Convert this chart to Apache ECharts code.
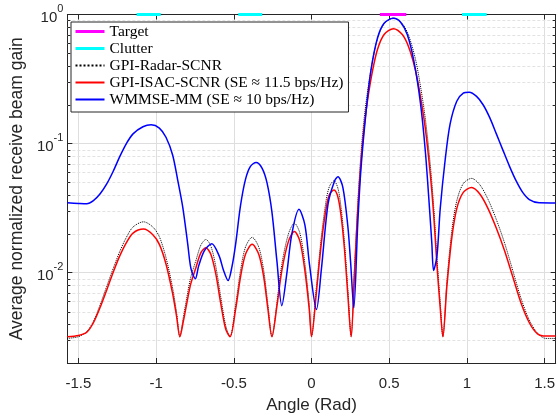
<!DOCTYPE html>
<html>
<head>
<meta charset="utf-8">
<script src="https://cdn.jsdelivr.net/npm/echarts@6/dist/echarts.min.js"></script>
<style>html,body{margin:0;padding:0;background:#fff;}#c{width:558px;height:419px;}</style>
</head>
<body>
<div id="c"></div>
<script>
// ---- data ----
const angRS = [-1.5708,-1.4987,-1.4459,-1.4032,-1.3611,-1.3185,-1.2758,-1.2338,-1.1911,-1.1484,-1.0809,-1.0210,-0.9790,-0.9363,-0.8936,-0.8682,-0.8471,-0.8248,-0.8025,-0.7771,-0.7433,-0.7115,-0.6796,-0.6478,-0.6159,-0.5841,-0.5522,-0.5242,-0.4885,-0.4567,-0.4248,-0.3822,-0.3395,-0.3076,-0.2803,-0.2548,-0.2229,-0.1911,-0.1484,-0.1102,-0.0745,-0.0427,-0.0146,0,0.0318,0.0637,0.0955,0.1166,0.1446,0.1701,0.1911,0.2121,0.2338,0.2548,0.2758,0.2975,0.3185,0.3395,0.3611,0.3930,0.4248,0.4669,0.5268,0.5841,0.6261,0.6688,0.7006,0.7325,0.7643,0.7854,0.8071,0.8280,0.8452,0.8707,0.9025,0.9344,0.9764,1.0299,1.0828,1.1357,1.1892,1.2420,1.2949,1.3484,1.4013,1.4541,1.5076,1.5708];
const isacVals = [0.0032,0.00327,0.00346,0.0041,0.00535,0.0073,0.0101,0.0135,0.0171,0.0203,0.0218,0.0197,0.0166,0.0117,0.0069,0.0046,0.0032,0.0042,0.0058,0.0082,0.011,0.0143,0.0156,0.0139,0.0098,0.0058,0.00366,0.0032,0.0052,0.0093,0.0139,0.0166,0.0139,0.0093,0.0052,0.0032,0.0055,0.0104,0.0175,0.0209,0.0175,0.0104,0.0052,0.0032,0.00715,0.0171,0.0323,0.0407,0.0437,0.0384,0.0271,0.0152,0.0067,0.0032,0.0095,0.0305,0.0728,0.138,0.219,0.369,0.538,0.699,0.776,0.699,0.555,0.369,0.232,0.13,0.0577,0.0288,0.0114,0.00535,0.0032,0.0078,0.0186,0.0314,0.0419,0.0457,0.0407,0.0314,0.0221,0.0148,0.0093,0.0058,0.0041,0.00336,0.00323,0.00323];
const radarVals = [0.0031,0.0032,0.0035,0.0042,0.0056,0.0078,0.0108,0.0146,0.0188,0.0226,0.0248,0.0226,0.0190,0.0131,0.0076,0.0049,0.0032,0.0045,0.0064,0.0092,0.0125,0.0164,0.0181,0.0161,0.0112,0.0065,0.0039,0.0032,0.0056,0.0104,0.0158,0.0188,0.0158,0.0104,0.0056,0.0032,0.0058,0.0116,0.0200,0.0242,0.0202,0.0118,0.0056,0.0032,0.0078,0.0192,0.0372,0.0470,0.0515,0.0450,0.0312,0.0170,0.0073,0.0032,0.0105,0.0345,0.0840,0.160,0.256,0.440,0.650,0.845,0.940,0.850,0.680,0.450,0.280,0.155,0.068,0.033,0.0128,0.0058,0.0032,0.0085,0.0210,0.0360,0.0490,0.0538,0.0480,0.0370,0.0258,0.0170,0.0104,0.0063,0.0043,0.0034,0.0031,0.0031];
const angWM = [-1.5708,-1.4987,-1.4459,-1.4032,-1.3611,-1.3185,-1.2758,-1.2338,-1.1911,-1.1484,-1.0847,-1.0318,-0.9790,-0.9363,-0.8936,-0.8618,-0.8280,-0.7962,-0.7752,-0.7471,-0.7261,-0.6898,-0.6414,-0.5943,-0.5669,-0.5369,-0.5127,-0.4885,-0.4567,-0.4248,-0.3930,-0.3567,-0.3185,-0.2866,-0.2548,-0.2229,-0.1911,-0.1592,-0.1274,-0.0809,-0.0427,-0.0127,0.0318,0.0637,0.1064,0.1484,0.1701,0.2019,0.2338,0.2516,0.2720,0.2975,0.3185,0.3503,0.3822,0.4248,0.4669,0.5268,0.5732,0.6159,0.6580,0.7006,0.7325,0.7599,0.7739,0.7854,0.8071,0.8280,0.8599,0.8917,0.9344,0.9764,1.0146,1.0618,1.1038,1.1465,1.1892,1.2312,1.2739,1.3166,1.3586,1.4013,1.4650,1.5708];
const wmmseVals = [0.0348,0.0344,0.0342,0.0362,0.0407,0.0485,0.0611,0.0793,0.100,0.119,0.135,0.140,0.132,0.112,0.0817,0.0529,0.032,0.0166,0.0107,0.0090,0.0113,0.0148,0.0168,0.0135,0.0105,0.0087,0.0110,0.0166,0.0332,0.0529,0.0667,0.0715,0.0647,0.0499,0.0296,0.0124,0.00556,0.0098,0.0197,0.031,0.0235,0.0115,0.0052,0.0107,0.0342,0.0514,0.0553,0.0457,0.0228,0.0120,0.00535,0.0242,0.0647,0.174,0.369,0.66,0.857,0.934,0.871,0.699,0.439,0.207,0.0866,0.0305,0.0170,0.0104,0.0135,0.0314,0.075,0.142,0.213,0.246,0.250,0.232,0.200,0.159,0.119,0.0891,0.0667,0.0514,0.0419,0.0369,0.0348,0.0347];
const targetSpan = [0.44, 0.61];
const clutterSpans = [[-1.125, -0.97], [-0.471, -0.317], [0.968, 1.127]];
const minorYTicks = [0.003,0.004,0.005,0.006,0.007,0.008,0.009,0.02,0.03,0.04,0.05,0.06,0.07,0.08,0.09,0.2,0.3,0.4,0.5,0.6,0.7,0.8,0.9];
const legendNames = ['Target','Clutter','GPI-Radar-SCNR','GPI-ISAC-SCNR (SE \u2248 11.5 bps/Hz)','WMMSE-MM (SE \u2248 10 bps/Hz)'];
const xMin = -Math.PI / 2, xMax = Math.PI / 2, yMin = 0.002, yMax = 1;

const zip = (a, b) => a.map((x, i) => [x, b[i]]);
const axisColor = '#262626';
const sans = 'Liberation Sans';

const chart = echarts.init(document.getElementById('c'), null, {renderer: 'canvas'});

const series = [
  {
    type: 'custom', coordinateSystem: 'cartesian2d', silent: true, z: 1,
    data: minorYTicks.map(v => [xMin, v]),
    renderItem: (params, api) => {
      const v = api.value(1);
      const a = api.coord([xMin, v]), b = api.coord([xMax, v]);
      const y = Math.round(a[1]) + 0.5;
      return {type: 'group', children: [
        {type: 'line', shape: {x1: a[0], y1: y, x2: b[0], y2: y}, style: {stroke: '#e2e2e2', lineWidth: 1, lineDash: [3, 2]}},
        {type: 'line', shape: {x1: a[0], y1: y, x2: a[0] + 3, y2: y}, style: {stroke: axisColor, lineWidth: 1}},
        {type: 'line', shape: {x1: b[0] - 3, y1: y, x2: b[0], y2: y}, style: {stroke: axisColor, lineWidth: 1}}
      ]};
    }
  },
  {name: legendNames[0], type: 'line', symbol: 'none', clip: false, z: 5,
   data: [[targetSpan[0], yMax], [targetSpan[1], yMax]],
   lineStyle: {color: '#ff00ff', width: 3}, itemStyle: {color: '#ff00ff'}}
];
clutterSpans.forEach(s => series.push({
  name: legendNames[1], type: 'line', symbol: 'none', clip: false, z: 5,
  data: [[s[0], yMax], [s[1], yMax]],
  lineStyle: {color: '#00ffff', width: 3}, itemStyle: {color: '#00ffff'}
}));
series.push(
  {name: legendNames[2], type: 'line', symbol: 'none', smooth: 0.3, z: 2,
   data: zip(angRS, radarVals), lineStyle: {color: '#000', width: 1, type: 'dotted'}, itemStyle: {color: '#000'}},
  {name: legendNames[3], type: 'line', symbol: 'none', smooth: 0.3, z: 3,
   data: zip(angRS, isacVals), lineStyle: {color: '#ff0000', width: 1.5}, itemStyle: {color: '#ff0000'}},
  {name: legendNames[4], type: 'line', symbol: 'none', smooth: 0.3, z: 4,
   data: zip(angWM, wmmseVals), lineStyle: {color: '#0000ff', width: 1.5}, itemStyle: {color: '#0000ff'}}
);

const xCommon = {
  type: 'value', min: xMin, max: xMax,
  axisLine: {show: true, onZero: false, lineStyle: {color: axisColor, width: 1}},
  axisTick: {show: true, inside: true, length: 5, lineStyle: {color: axisColor}},
};
const yCommon = {
  type: 'log', logBase: 10, min: yMin, max: yMax,
  axisLine: {show: true, onZero: false, lineStyle: {color: axisColor, width: 1}},
  axisTick: {show: true, inside: true, length: 5, lineStyle: {color: axisColor}},
};

chart.setOption({
  animation: false,
  backgroundColor: '#fff',
  grid: {left: 63, right: 1.5, top: 14.5, bottom: 48, containLabel: false},
  xAxis: [
    Object.assign({}, xCommon, {
      position: 'bottom',
      name: 'Angle (Rad)', nameLocation: 'middle', nameGap: 34,
      nameTextStyle: {fontFamily: sans, fontSize: 17, color: axisColor},
      axisLabel: {show: true, showMinLabel: false, showMaxLabel: false, margin: 13,
        fontFamily: sans, fontSize: 15, color: axisColor,
        formatter: v => (Math.abs(v * 2 - Math.round(v * 2)) < 1e-6 ? String(v) : '')},
      splitLine: {show: true, lineStyle: {color: '#dedede', width: 1}}
    }),
    Object.assign({}, xCommon, {position: 'top', axisLabel: {show: false}, splitLine: {show: false}})
  ],
  yAxis: [
    Object.assign({}, yCommon, {
      position: 'left',
      name: 'Average normalized receive beam gain', nameLocation: 'middle', nameGap: 37,
      nameTextStyle: {fontFamily: sans, fontSize: 17.5, color: axisColor},
      axisLabel: {show: true, margin: 4,
        formatter: v => { const l = Math.log10(v); const e = Math.round(l); if (Math.abs(l - e) > 1e-6) return ''; return '{b|10}{s|' + e + '}'; },
        rich: {
          b: {fontFamily: sans, fontSize: 15, color: axisColor, lineHeight: 22, verticalAlign: 'bottom'},
          s: {fontFamily: sans, fontSize: 11, color: axisColor, lineHeight: 22, verticalAlign: 'top'}
        }},
      splitLine: {show: true, lineStyle: {color: '#dedede', width: 1}}
    }),
    Object.assign({}, yCommon, {position: 'right', axisLabel: {show: false}, splitLine: {show: false}})
  ],
  legend: {
    data: [
      {name: legendNames[0], lineStyle: {width: 3}},
      {name: legendNames[1], lineStyle: {width: 3}},
      legendNames[2], legendNames[3], legendNames[4]
    ],
    orient: 'vertical', left: 71, top: 22,
    padding: [1, 5, 4, 3], itemGap: 0, itemWidth: 29, itemHeight: 14,
    itemStyle: {opacity: 0},
    backgroundColor: '#fff', borderColor: axisColor, borderWidth: 1, borderRadius: 0,
    textStyle: {fontFamily: 'Liberation Serif', fontSize: 15.5, color: '#000', lineHeight: 17},
    selectedMode: false
  },
  series: series
});
</script>
</body>
</html>
